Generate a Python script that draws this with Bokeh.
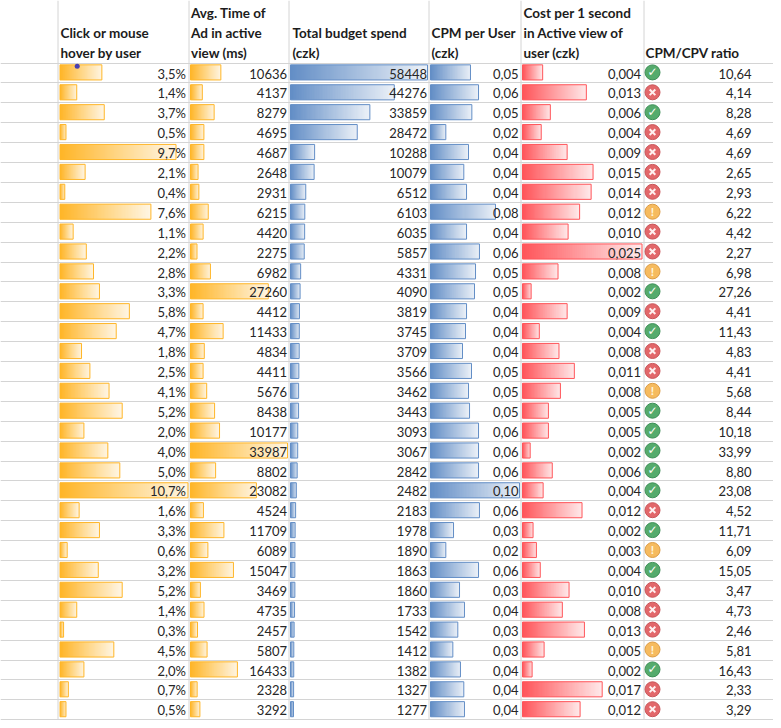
import numpy as np
from bokeh.plotting import figure
from bokeh.models import Range1d, ColumnDataSource
from bokeh.core.properties import value
from bokeh.embed import file_html
from bokeh.resources import INLINE

click_pct = [3.5,1.4,3.7,0.5,9.7,2.1,0.4,7.6,1.1,2.2,2.8,3.3,5.8,4.7,1.8,2.5,4.1,5.2,2.0,4.0,5.0,10.7,1.6,3.3,0.6,3.2,5.2,1.4,0.3,4.5,2.0,0.7,0.5]
avg_time = [10636,4137,8279,4695,4687,2648,2931,6215,4420,2275,6982,27260,4412,11433,4834,4411,5676,8438,10177,33987,8802,23082,4524,11709,6089,15047,3469,4735,2457,5807,16433,2328,3292]
budget = [58448,44276,33859,28472,10288,10079,6512,6103,6035,5857,4331,4090,3819,3745,3709,3566,3462,3443,3093,3067,2842,2482,2183,1978,1890,1863,1860,1733,1542,1412,1382,1327,1277]
cpm = [0.0467,0.0561,0.0483,0.0179,0.0444,0.0389,0.0421,0.0759,0.0421,0.0572,0.0526,0.0514,0.0421,0.0409,0.0374,0.0479,0.0444,0.0456,0.0561,0.0561,0.0561,0.1040,0.0572,0.0269,0.0179,0.0561,0.0339,0.0397,0.0319,0.0261,0.0350,0.0389,0.0397]
cpm_labels = ["0,05","0,06","0,05","0,02","0,04","0,04","0,04","0,08","0,04","0,06","0,05","0,05","0,04","0,04","0,04","0,05","0,05","0,05","0,06","0,06","0,06","0,10","0,06","0,03","0,02","0,06","0,03","0,04","0,03","0,03","0,04","0,04","0,04"]
cost = [0.0042,0.0133,0.0058,0.0039,0.0093,0.0147,0.0143,0.0119,0.0095,0.0249,0.0074,0.0018,0.0093,0.0035,0.0076,0.0108,0.0079,0.0054,0.0054,0.0016,0.0062,0.0043,0.0124,0.0022,0.0029,0.0037,0.0097,0.0083,0.0129,0.0045,0.0020,0.0166,0.0120]
cost_labels = ["0,004","0,013","0,006","0,004","0,009","0,015","0,014","0,012","0,010","0,025","0,008","0,002","0,009","0,004","0,008","0,011","0,008","0,005","0,005","0,002","0,006","0,004","0,012","0,002","0,003","0,004","0,010","0,008","0,013","0,005","0,002","0,017","0,012"]
ratio_labels = ["10,64","4,14","8,28","4,69","4,69","2,65","2,93","6,22","4,42","2,27","6,98","27,26","4,41","11,43","4,83","4,41","5,68","8,44","10,18","33,99","8,80","23,08","4,52","11,71","6,09","15,05","3,47","4,73","2,46","5,81","16,43","2,33","3,29"]
status = list("grgrrrrorro" "grgrrogggg" "g" "rgogrrrogrr")
headers = [
    ["Click or mouse", "hover by user"],
    ["Avg. Time of", "Ad in active", "view (ms)"],
    ["Total budget spend", "(czk)"],
    ["CPM per User", "(czk)"],
    ["Cost per 1 second", "in Active view of", "user (czk)"],
    ["CPM/CPV ratio"],
]

FONT = "Lato"
TXT = "#262626"
GRID = "#d4d4d4"
ORANGE, BLUE, RED = (255,182,40), (99,142,198), (255,85,90)
n = len(click_pct)
rows = np.arange(n)
XMIN, XMAX = 0, 773
YTOP, YBOT = -3.643, 32.538

p = figure(width=773, height=720, output_backend="svg", toolbar_location=None,
           x_range=Range1d(XMIN, XMAX), y_range=Range1d(YBOT, YTOP),
           min_border=0, outline_line_color=None, background_fill_color="white")
p.axis.visible = False
p.grid.visible = False

# grid
for gy in np.arange(n + 1) - 0.5:
    p.hspan(y=[gy], line_color=GRID, line_width=1)
for gx in [57.5,188.5,288.5,428.5,520.5,643.5]:
    p.segment(x0=[gx], x1=[gx], y0=[YTOP], y1=[YBOT], line_color=GRID, line_width=1)

def gradient(rgb):
    w = 64
    t = np.linspace(0, 0.88, w)
    img = np.zeros((1, w, 4), dtype=np.uint8)
    for k in range(3):
        img[0, :, k] = np.round(rgb[k] + (255 - rgb[k]) * t).astype(np.uint8)
    img[0, :, 3] = 255
    return img.view(dtype=np.uint32).reshape((1, w))

BAR_H = 0.76
BAR_Y = -0.03
def bar_column(name, vals, left, scale, rgb):
    p.extra_x_ranges[name] = Range1d((XMIN - left) / scale, (XMAX - left) / scale)
    g = gradient(rgb)
    vals = np.asarray(vals, dtype=float)
    src = ColumnDataSource(dict(image=[g] * n, x=[0.0] * n,
                                y=list(rows + BAR_Y - BAR_H / 2), dw=list(vals),
                                dh=[BAR_H] * n))
    p.image_rgba(image="image", x="x", y="y", dw="dw", dh="dh", source=src, x_range_name=name)
    col = "#%02x%02x%02x" % rgb
    p.hbar(y=rows + BAR_Y, left=0, right=vals, height=BAR_H, fill_color=None,
           line_color=col, line_width=1, x_range_name=name)

bar_column("c1", click_pct, 59.5, 11.96, ORANGE)
bar_column("c2", avg_time, 190, 97 / 33987, ORANGE)
bar_column("c3", budget, 290, 137 / 58448, BLUE)
bar_column("c4", cpm, 430, 856, BLUE)
bar_column("c5", cost, 522, 4800, RED)

def right_text(labels, x):
    p.text(x=[x] * n, y=rows + 0.03, text=labels, text_align="right", text_baseline="middle",
           text_font=value(FONT), text_font_size="13px", text_color=TXT)

right_text([f"{v:.1f}%".replace(".", ",") for v in click_pct], 185.5)
right_text([str(v) for v in avg_time], 286.5)
right_text([str(v) for v in budget], 426.5)
right_text(cpm_labels, 518)
right_text(cost_labels, 640.5)
right_text(ratio_labels, 751)

# headers
for lines, x in zip(headers, [60, 190.5, 292, 431, 523, 645]):
    k = len(lines)
    p.text(x=[x] * k, y=[-k + i for i in range(k)], text=lines, text_align="left",
           text_baseline="middle", text_font=value(FONT), text_font_style="bold",
           text_font_size="13.5px", text_color="#1c1c1c")

# status icons
ICON_X = 652
fills = {"g": "#55ab6c", "r": "#e2676a", "o": "#f6bb5f"}
edges = {"g": "#3f8f58", "r": "#c9565a", "o": "#dc9c45"}
p.scatter(x=[ICON_X] * n, y=rows + BAR_Y, size=15, marker="circle",
          fill_color=[fills[s] for s in status], line_color=[edges[s] for s in status], line_width=1)
rr = [r for r, s in zip(rows, status) if s == "r"]
gg = [r for r, s in zip(rows, status) if s == "g"]
oo = [r for r, s in zip(rows, status) if s == "o"]
p.scatter(x=[ICON_X] * len(rr), y=np.array(rr) + BAR_Y, size=8, marker="x", line_color="#fff0f0", line_width=2)
p.text(x=[ICON_X] * len(gg), y=np.array(gg) + BAR_Y, text=["✓"] * len(gg), text_align="center",
       text_baseline="middle", text_font=value("DejaVu Sans"), text_font_style="bold",
       text_font_size="12px", text_color="white")
p.text(x=[ICON_X] * len(oo), y=np.array(oo) + BAR_Y, text=["!"] * len(oo), text_align="center",
       text_baseline="middle", text_font=value("Lato"), text_font_style="bold",
       text_font_size="12px", text_color="#fff6dc")

# stray pointer dot over the first bar
p.scatter(x=[76.7], y=[-0.34], size=5, marker="circle", fill_color="#4a3fb0", line_color=None)

open("out.html", "w").write(file_html(p, INLINE))
